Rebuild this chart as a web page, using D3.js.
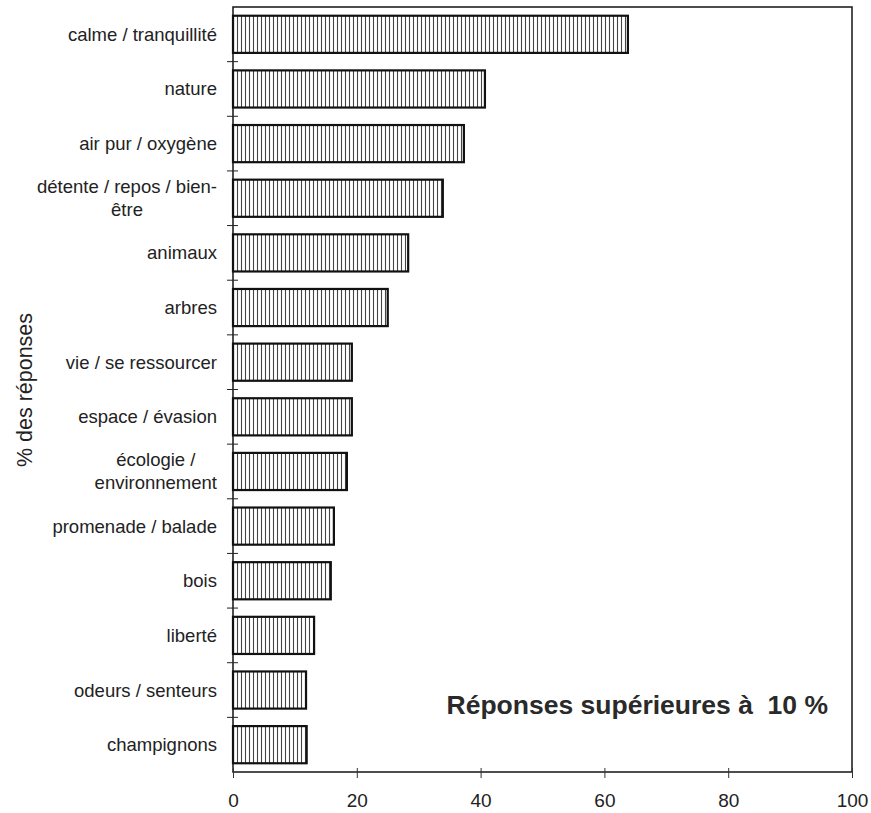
<!DOCTYPE html>
<html><head><meta charset="utf-8">
<script src="https://cdn.jsdelivr.net/npm/d3@7"></script>
<style>body{margin:0;background:#fff;} text{font-family:"Liberation Sans",Arial,sans-serif;}</style>
</head><body><svg id="c" width="871" height="813"></svg>
<script>
const categories = [
  ["calme / tranquillité"],
  ["nature"],
  ["air pur / oxygène"],
  ["détente / repos / bien-", "être"],
  ["animaux"],
  ["arbres"],
  ["vie / se ressourcer"],
  ["espace / évasion"],
  ["écologie /", "environnement"],
  ["promenade / balade"],
  ["bois"],
  ["liberté"],
  ["odeurs / senteurs"],
  ["champignons"]
];
const values = [63.8, 40.7, 37.3, 33.9, 28.3, 25.0, 19.2, 19.2, 18.4, 16.3, 15.8, 13.1, 11.8, 11.9];
const xTicks = [0, 20, 40, 60, 80, 100];
const yTitle = "% des réponses";
const note = "Réponses supérieures à  10 %";

const svg = d3.select("#c");
const m = {l: 233, r: 852, t: 7, b: 772};
const ids = categories.map((c, i) => i);
const x = d3.scaleLinear().domain([0, 100]).range([m.l, m.r]);
const y = d3.scaleBand().domain(ids).range([m.t, m.b]).paddingInner(0.32).paddingOuter(0.16);

const defs = svg.append("defs");
const pat = defs.append("pattern").attr("id", "hatch").attr("patternUnits", "userSpaceOnUse")
  .attr("width", 4).attr("height", 8);
pat.append("rect").attr("width", 4).attr("height", 8).attr("fill", "#fff");
pat.append("line").attr("x1", 1.5).attr("x2", 1.5).attr("y1", 0).attr("y2", 8)
  .attr("stroke", "#444").attr("stroke-width", 1.1);

// frame
svg.append("rect").attr("x", m.l).attr("y", m.t).attr("width", m.r - m.l).attr("height", m.b - m.t)
  .attr("fill", "none").attr("stroke", "#222").attr("stroke-width", 1.6);

// bars
svg.append("g").selectAll("rect").data(values).join("rect")
  .attr("x", x(0)).attr("y", (d, i) => y(i))
  .attr("width", d => x(d) - x(0)).attr("height", y.bandwidth())
  .attr("fill", "url(#hatch)").attr("stroke", "#111").attr("stroke-width", 2.2);

// y-axis boundary ticks (crosses)
const step = y.step();
const bounds = d3.range(1, categories.length).map(k => m.t + k * step);
svg.append("g").selectAll("line").data(bounds).join("line")
  .attr("x1", m.l - 6).attr("x2", m.l + 5).attr("y1", d => d).attr("y2", d => d)
  .attr("stroke", "#222").attr("stroke-width", 1);

// x axis
const xAxis = d3.axisBottom(x).tickValues(xTicks).tickSize(6).tickPadding(16).tickFormat(d3.format("d"));
const gx = svg.append("g").attr("transform", `translate(0,${m.b})`).call(xAxis);
gx.select(".domain").remove();
gx.selectAll(".tick line").attr("stroke", "#333").attr("y1", -4);
gx.selectAll(".tick text").attr("font-size", 19).attr("fill", "#222")
  .style("font-family", "'Liberation Sans',Arial,sans-serif");

// category labels
const lab = svg.append("g");
categories.forEach((lines, i) => {
  const cy = y(i) + y.bandwidth() / 2;
  const lh = 23;
  const g = lab.append("g");
  const ts = lines.map((t, j) => g.append("text").text(t)
    .attr("font-size", 18.5).attr("fill", "#222")
    .attr("y", cy + (j - (lines.length - 1) / 2) * lh).attr("dy", "0.35em"));
  const widths = ts.map(t => t.node().getComputedTextLength());
  const maxw = d3.max(widths);
  const right = 217;
  ts.forEach(t => t.attr("x", right - maxw / 2).attr("text-anchor", "middle"));
});

// y title
svg.append("text").attr("transform", "translate(24,390) rotate(-90)")
  .attr("text-anchor", "middle").attr("dy", "0.35em").attr("font-size", 21.5).attr("fill", "#222")
  .text(yTitle);

// note
svg.append("text").attr("x", 828).attr("y", 705).attr("dy", "0.35em").attr("text-anchor", "end")
  .style("white-space", "pre")
  .attr("font-size", 26.5).attr("font-weight", "bold").attr("fill", "#2a2a2a").text(note);
</script></body></html>
